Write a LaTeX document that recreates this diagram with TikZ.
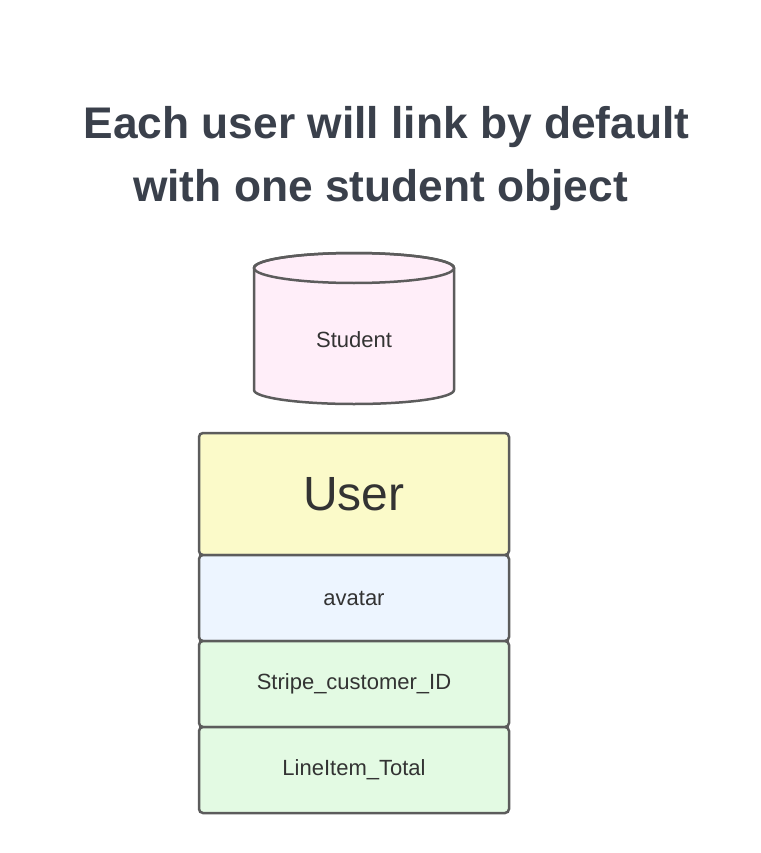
\documentclass[tikz,border=0pt]{standalone}
\usepackage{fontspec}
\setmainfont{Liberation Sans}
\definecolor{titlec}{HTML}{3A404B}
\definecolor{txt}{HTML}{333333}
\definecolor{edge}{HTML}{5C5C5C}
\definecolor{pinkf}{HTML}{FFEEF9}
\definecolor{yellowf}{HTML}{FBFAC9}
\definecolor{bluef}{HTML}{EDF5FF}
\definecolor{greenf}{HTML}{E3FAE3}
\tikzset{
  titletext/.style={anchor=base,text=titlec,font=\fontsize{44.3}{50}\selectfont\bfseries,inner sep=0pt},
  field/.style={draw=edge,line width=2.5pt,rounded corners=4pt,minimum width=310pt,minimum height=86pt,inner sep=0pt,text=txt,font=\fontsize{22}{26}\selectfont},
  cyl/.style={draw=edge,line width=2.5pt,fill=pinkf}
}
\begin{document}
\begin{tikzpicture}[x=1pt,y=-1pt]
\useasboundingbox[fill=white] (0,0) rectangle (760,853);
\node[titletext] (t1) at (386.5,139) {Each user will link by default};
\node[titletext] (t2) at (380.5,201) {with one student object};
% cylinder
\path[cyl] (254,268) -- (254,390) arc[start angle=180,end angle=0,x radius=100,y radius=14]
  -- (454,268) arc[start angle=0,end angle=-180,x radius=100,y radius=15] -- cycle;
\draw[draw=edge,line width=2.5pt] (354,268) ellipse[x radius=100,y radius=15];
\node[text=txt,font=\fontsize{22}{26}\selectfont,inner sep=0pt] (student) at (354,340) {Student};
% user stack
\node[field,fill=yellowf,minimum height=122pt,font=\fontsize{48}{56}\selectfont] (user) at (354,494) {User};
\node[field,fill=bluef] (avatar) at (354,598) {avatar};
\node[field,fill=greenf] (stripe) at (354,684) {Stripe\_customer\_ID};
\node[field,fill=greenf] (lineitem) at (354,770) {LineItem\_Total};
\end{tikzpicture}
\end{document}
